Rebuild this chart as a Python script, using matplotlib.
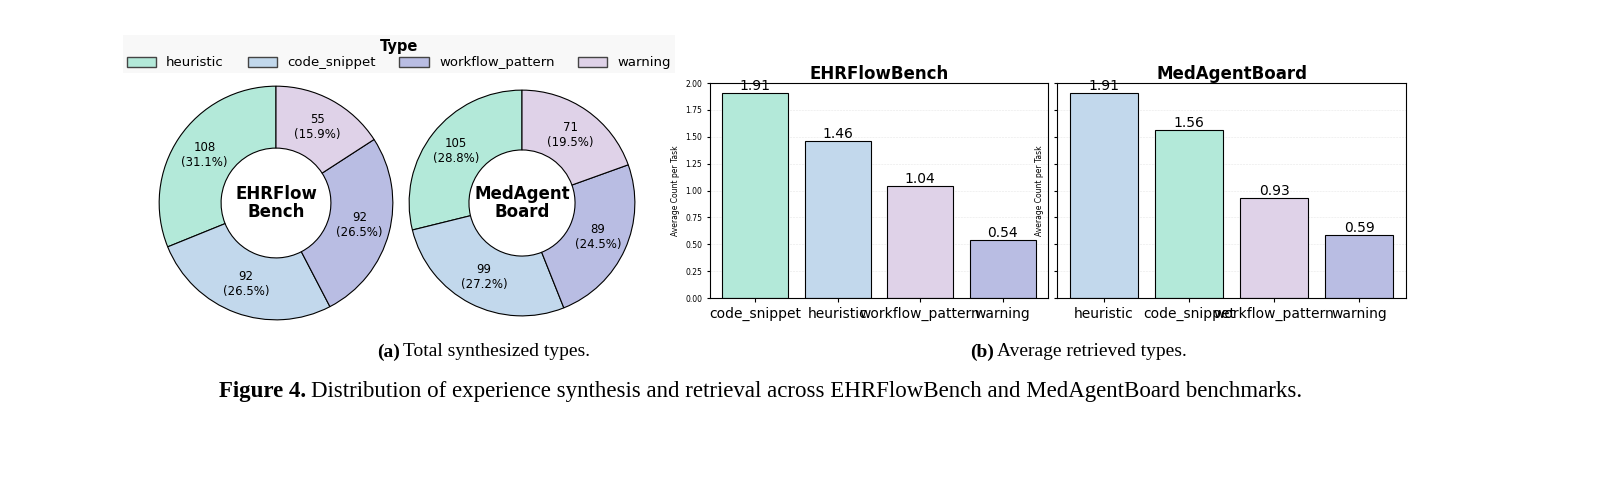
import matplotlib
matplotlib.use("Agg")
import matplotlib.pyplot as plt
from matplotlib.patches import Patch

types = ["heuristic", "code_snippet", "workflow_pattern", "warning"]
type_colors = ["#b3e9d9", "#c2d8ec", "#b9bde3", "#dfd2e8"]
ehr_counts = [108, 92, 92, 55]
med_counts = [105, 99, 89, 71]

ehr_bar_labels = ["code_snippet", "heuristic", "workflow_pattern", "warning"]
ehr_bar_values = [1.91, 1.46, 1.04, 0.54]
med_bar_labels = ["heuristic", "code_snippet", "workflow_pattern", "warning"]
med_bar_values = [1.91, 1.56, 0.93, 0.59]
bar_colors = ["#b3e9d9", "#c2d8ec", "#dfd2e8", "#b9bde3"]
med_bar_colors = ["#c2d8ec", "#b3e9d9", "#dfd2e8", "#b9bde3"]

W, H = 1618, 497
fig = plt.figure(figsize=(W / 100, H / 100), dpi=100)


def px(x0, y0, x1, y1):
    return [x0 / W, 1 - y1 / H, (x1 - x0) / W, (y1 - y0) / H]


def donut(rect, counts, center):
    ax = fig.add_axes(rect)
    total = sum(counts)
    ax.pie(
        counts, colors=type_colors, startangle=90, counterclock=True,
        autopct=lambda p: f"{p * total / 100:.0f}\n({p:.1f}%)",
        pctdistance=0.74, wedgeprops=dict(width=0.53, edgecolor="black", linewidth=0.8),
        textprops=dict(fontsize=8.5),
    )
    ax.text(0, 0, center, ha="center", va="center", fontsize=12, fontweight="bold",
            linespacing=1.0)
    ax.set_aspect("equal")
    ax.set_xlim(-1.01, 1.01)
    ax.set_ylim(-1.01, 1.01)


donut(px(158, 85, 394, 321), ehr_counts, "EHRFlow\nBench")
donut(px(408, 85, 636, 321), med_counts, "MedAgent\nBoard")

handles = [Patch(facecolor=c, edgecolor="#444444", label=t) for t, c in zip(types, type_colors)]
leg = fig.legend(handles=handles, title="Type", ncol=4, loc="center",
                 bbox_to_anchor=(399 / W, 1 - 54 / H), fontsize=9.5,
                 title_fontproperties=dict(weight="bold", size=10.5),
                 frameon=True, fancybox=False, columnspacing=1.8,
                 handlelength=2.2, handleheight=0.8, borderpad=0.3, labelspacing=0.2)
leg.get_frame().set_facecolor("#f7f7f7")
leg.get_frame().set_edgecolor("none")


def bars(rect, labels, values, colors, title, show_ticks):
    ax = fig.add_axes(rect)
    b = ax.bar(labels, values, color=colors, edgecolor="black", linewidth=0.8, width=0.8)
    for rect_, v in zip(b, values):
        ax.text(rect_.get_x() + rect_.get_width() / 2, v, f"{v:.2f}",
                ha="center", va="bottom", fontsize=10)
    ax.set_ylim(0, 2.0)
    ax.set_yticks([0, 0.25, 0.5, 0.75, 1.0, 1.25, 1.5, 1.75, 2.0])
    if show_ticks:
        ax.set_yticklabels([f"{t:.2f}" for t in ax.get_yticks()], fontsize=5.5)
    else:
        ax.set_yticklabels([])
    ax.set_ylabel("Average Count per Task", fontsize=5.5)
    ax.set_title(title, fontsize=12, fontweight="bold", pad=2)
    ax.tick_params(axis="x", labelsize=10, length=3)
    ax.tick_params(axis="y", length=2)
    ax.grid(axis="y", linestyle="--", linewidth=0.4, alpha=0.3)
    ax.set_axisbelow(True)
    ax.set_xlim(-0.55, 3.55)


bars(px(710, 83, 1048, 298), ehr_bar_labels, ehr_bar_values, bar_colors, "EHRFlowBench", True)
bars(px(1057, 83, 1406, 298), med_bar_labels, med_bar_values, med_bar_colors, "MedAgentBoard", False)

serif = ["Liberation Serif", "DejaVu Serif"]
fig.text(400 / W, 1 - 352 / H, "(a)", ha="right", va="center", fontsize=14, family=serif, weight="bold")
fig.text(403 / W, 1 - 352 / H, "Total synthesized types.", ha="left", va="center", fontsize=14, family=serif)
fig.text(994 / W, 1 - 352 / H, "(b)", ha="right", va="center", fontsize=14, family=serif, weight="bold")
fig.text(997 / W, 1 - 352 / H, "Average retrieved types.", ha="left", va="center", fontsize=14, family=serif)
fig.text(306 / W, 1 - 392 / H, "Figure 4.", ha="right", va="center", fontsize=16.5, family=serif, weight="bold")
fig.text(311 / W, 1 - 392 / H,
         "Distribution of experience synthesis and retrieval across EHRFlowBench and MedAgentBoard benchmarks.",
         ha="left", va="center", fontsize=16.5, family=serif)

fig.savefig("out.png", dpi=100)
